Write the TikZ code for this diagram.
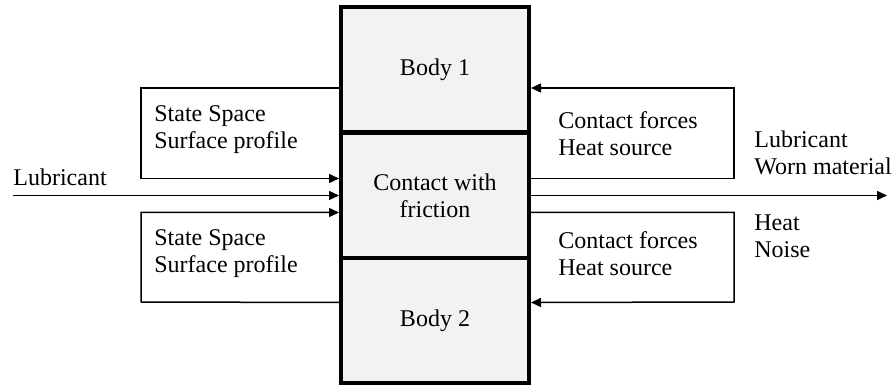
\documentclass[tikz,border=0pt]{standalone}
\usepackage{fontspec}
\setmainfont{Liberation Serif}
\usepackage{tikz}
\usetikzlibrary{positioning}
\usetikzlibrary{arrows.meta}

\begin{document}
\begin{tikzpicture}[x=0.5pt,y=-0.5pt,
    font=\fontsize{12}{13.5}\selectfont,
    block/.style={draw,line width=2pt,fill=gray!10,minimum width=94pt,minimum height=62.5pt,align=center},
    lbl/.style={inner sep=0pt,align=left,anchor=west},
    flow/.style={line width=0.75pt,-{Triangle[length=5pt,width=4.5pt]}}]
\useasboundingbox (0,0) rectangle (896,385);
% the two bodies and the contact zone between them
\node[block] (body1) at (435,70) {Body 1};
\node[block] (contact) at (435,195.5) {Contact with\\friction};
\node[block] (body2) at (435,320.5) {Body 2};
% corners of the feedback loops
\coordinate (lt) at (141,88);
\coordinate (lb) at (141,302);
\coordinate (rt) at (734,88);
\coordinate (rb) at (734,302);
\coordinate (src) at (13,195.5);
\coordinate (sink) at (887,195.5);
% texts
\node[lbl] (state1) at (154,130) {State Space\\Surface profile};
\node[lbl] (state2) at (154,253.5) {State Space\\Surface profile};
\node[lbl] (force1) at (558,133.5) {Contact forces\\Heat source};
\node[lbl] (force2) at (558,253.5) {Contact forces\\Heat source};
\node[lbl,anchor=base west] (lubin) at (13,186) {Lubricant};
\node[lbl] (outa) at (754,153) {Lubricant\\Worn material};
\node[lbl] (outb) at (754,236.5) {Heat\\Noise};
% connectors
\draw[flow] (src) -- (contact.west);
\draw[flow] (contact.east) -- (sink);
\draw[flow] ([yshift=-9pt]body1.west) -- (lt) |- ([yshift=8.5pt]contact.west);
\draw[flow] ([yshift=9pt]body2.west) -- (lb) |- ([yshift=-8.5pt]contact.west);
\draw[flow] ([yshift=8.5pt]contact.east) -| (rt) -- ([yshift=-9pt]body1.east);
\draw[flow] ([yshift=-8.5pt]contact.east) -| (rb) -- ([yshift=9pt]body2.east);
\end{tikzpicture}
\end{document}
